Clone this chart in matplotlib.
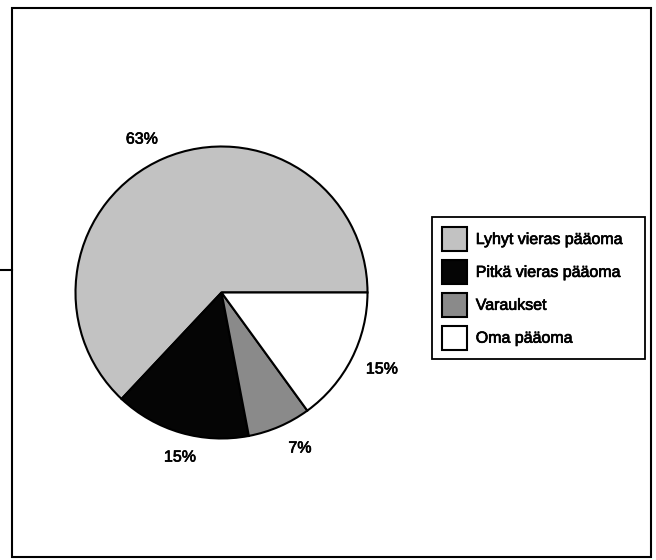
import matplotlib
matplotlib.use("Agg")
import matplotlib.pyplot as plt
import matplotlib.patheffects as pe
from matplotlib.patches import Rectangle
from matplotlib.lines import Line2D

# ---- data ----
categories = ["Lyhyt vieras pääoma", "Pitkä vieras pääoma", "Varaukset", "Oma pääoma"]
values = [63, 15, 7, 15]
colors = ["#c2c2c2", "#050505", "#8a8a8a", "#ffffff"]

# ---- layout (label centres, in pie-radius units) ----
label_pos = [(-0.545, 1.051), (-0.284, -1.127), (0.538, -1.065), (1.099, -0.524)]

plt.rcParams['font.family'] = ['Liberation Sans', 'DejaVu Sans']
thick = [pe.withStroke(linewidth=0.5, foreground="black")]

W, H = 656, 560
fig = plt.figure(figsize=(W / 100, H / 100), dpi=100)
fig.patch.set_facecolor("white")

# pie axes: center (221.5, 292.5) px, radius ~146 px
cx, cy, half = 221.5, 292.5, 150
ax = fig.add_axes([(cx - half) / W, (H - cy - half) / H, 2 * half / W, 2 * half / H])
wedges, texts, autotexts = ax.pie(
    values, colors=colors, startangle=0, counterclock=True,
    autopct='%1.0f%%', pctdistance=1.19,
    wedgeprops=dict(edgecolor="black", linewidth=1.5),
    textprops=dict(fontsize=11.5, color="black"),
)
for t, p in zip(autotexts, label_pos):
    t.set_position(p)
    t.set_ha("center")
    t.set_va("center")
    t.set_path_effects(thick)
lim = half / 146
ax.set_xlim(-lim, lim)
ax.set_ylim(-lim, lim)
ax.set_aspect("equal")
ax.axis("off")

# legend
leg = fig.legend(
    wedges, categories, loc="upper left",
    bbox_to_anchor=(432 / W, (H - 217) / H, 213 / W, 0), mode="expand",
    borderaxespad=0, fontsize=11.5, frameon=True, fancybox=False,
    shadow=False, framealpha=1, edgecolor="black",
    handlelength=1.56, handleheight=1.93, labelspacing=0.56,
    handletextpad=0.56, borderpad=0.62,
)
leg.get_frame().set_linewidth(1.3)
for t in leg.get_texts():
    t.set_path_effects(thick)

# outer frame and small stub line
fig.add_artist(Rectangle((12 / W, (H - 557) / H), (651 - 12) / W, (557 - 8) / H,
                         transform=fig.transFigure, fill=False,
                         edgecolor="black", linewidth=1.5))
fig.add_artist(Line2D([0, 12 / W], [(H - 270) / H] * 2, transform=fig.transFigure,
                      color="black", linewidth=1.5))

fig.savefig("out.png", dpi=100)
